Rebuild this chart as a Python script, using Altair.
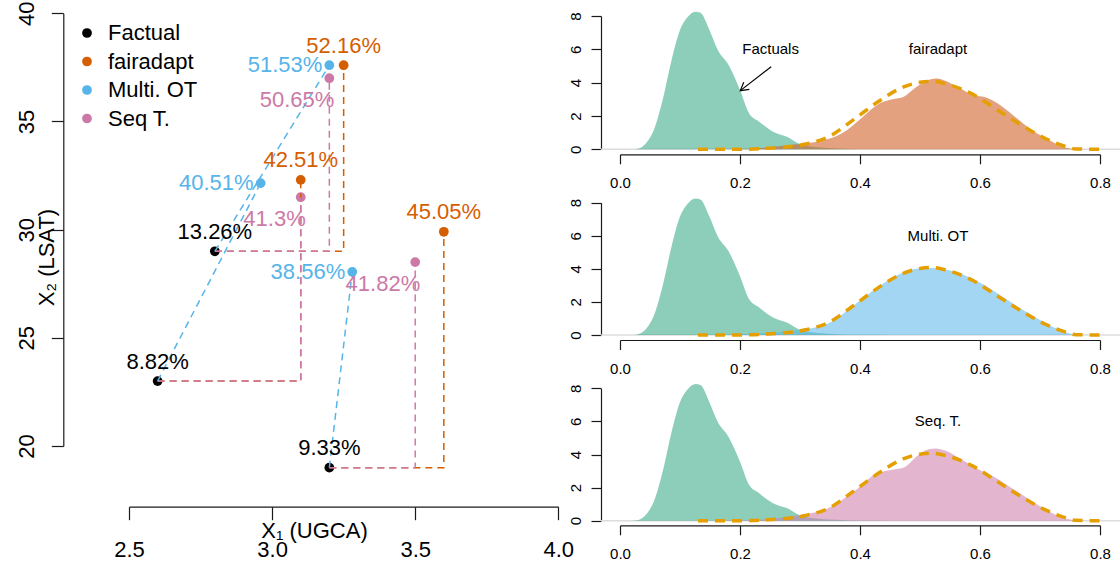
import math
import altair as alt
import pandas as pd

FONT = "Liberation Sans"
W, H = 1120, 562

# ---------------- left panel values ----------------
groups = ["Factual", "fairadapt", "Multi. OT", "Seq T."]
group_colors = ["#000000", "#D55E00", "#56B4E9", "#CC79A7"]

fact_x1 = [2.6, 2.8, 3.2]
fact_x2 = [23.0, 29.0, 19.0]
fact_pct = ["8.82%", "13.26%", "9.33%"]

fair_x1 = [3.1, 3.25, 3.6]
fair_x2 = [32.3, 37.6, 29.9]
fair_pct = ["42.51%", "52.16%", "45.05%"]

ot_x1 = [2.96, 3.2, 3.28]
ot_x2 = [32.15, 37.6, 28.05]
ot_pct = ["40.51%", "51.53%", "38.56%"]

seq_x1 = [3.1, 3.2, 3.5]
seq_x2 = [31.5, 37.0, 28.5]
seq_pct = ["41.3%", "50.65%", "41.82%"]

x1_ticks = [2.5, 3.0, 3.5, 4.0]
x2_ticks = [20, 25, 30, 35, 40]

# ---------------- density panel values ----------------
dens_ticks_x = [0.0, 0.2, 0.4, 0.6, 0.8]
dens_ticks_y = [0, 2, 4, 6, 8]

factual_x = [0.02, 0.028, 0.054, 0.071, 0.086, 0.100, 0.111, 0.126, 0.134, 0.149, 0.163,
             0.181, 0.200, 0.215, 0.232, 0.255, 0.278, 0.301, 0.33, 0.36, 0.40, 0.45]
factual_y = [0.0, 0.02, 0.96, 2.96, 5.36, 7.16, 7.86, 8.26, 8.2, 7.16, 5.96,
             5.06, 3.56, 2.17, 1.66, 1.06, 0.76, 0.30, 0.12, 0.05, 0.01, 0.0]

fair_dx = [0.15, 0.20, 0.25, 0.28, 0.30, 0.335, 0.37, 0.405, 0.433, 0.456, 0.473, 0.491,
           0.508, 0.528, 0.543, 0.566, 0.589, 0.609, 0.629, 0.658, 0.686, 0.715, 0.738, 0.761, 0.78]
fair_dy = [0.0, 0.02, 0.12, 0.25, 0.32, 0.5, 0.96, 1.96, 2.76, 3.02, 3.16, 3.66,
           4.06, 4.25, 4.1, 3.66, 3.26, 3.12, 2.76, 1.96, 1.16, 0.56, 0.16, 0.02, 0.0]

ot_dx = [0.15, 0.20, 0.25, 0.30, 0.35, 0.39, 0.43, 0.47, 0.50, 0.52, 0.55, 0.59, 0.63,
         0.67, 0.71, 0.74, 0.76, 0.78]
ot_dy = [0.0, 0.04, 0.12, 0.3, 0.75, 1.8, 2.9, 3.75, 4.03, 4.05, 3.9, 3.35, 2.5,
         1.55, 0.7, 0.2, 0.03, 0.0]

seq_dx = [0.15, 0.20, 0.25, 0.28, 0.301, 0.347, 0.393, 0.428, 0.456, 0.473, 0.494, 0.508,
          0.525, 0.543, 0.566, 0.594, 0.623, 0.658, 0.692, 0.727, 0.755, 0.78]
seq_dy = [0.0, 0.02, 0.1, 0.22, 0.34, 0.75, 1.85, 2.86, 3.1, 3.22, 3.87, 4.23,
          4.37, 4.23, 3.77, 3.17, 2.66, 1.85, 1.05, 0.34, 0.04, 0.0]

target_x = [0.13, 0.20, 0.24, 0.28, 0.31, 0.347, 0.39, 0.43, 0.47, 0.50, 0.52, 0.548,
            0.589, 0.629, 0.669, 0.709, 0.744, 0.76, 0.80]
target_y = [0.0, 0.0, 0.05, 0.15, 0.32, 0.74, 1.8, 2.85, 3.7, 4.02, 4.08, 3.88,
            3.28, 2.36, 1.45, 0.65, 0.16, 0.02, 0.0]

panel_labels = ["fairadapt", "Multi. OT", "Seq. T."]
panel_label_pos = [0.53, 6.0]
factuals_label_pos = [0.251, 6.0]
arrow_from = [0.252, 4.96]
arrow_to = [0.2005, 3.52]
baseline_x = [-0.032, 0.84]

# ---------------- layout (pixel placement of each panel) ----------------
LEFT_X_RANGE = [129, 558.3]
LEFT_Y_RANGE = [446, 13.3]
LEFT_XAXIS_Y = 506.7
LEFT_YAXIS_X = 63.3
DENS_X_RANGE = [620, 1100]
DENS_Y_RANGES = [[149.3, 16], [335, 202.7], [520.7, 388.3]]
DENS_XAXIS_Y = [154.3, 340, 525.3]
DENS_YAXIS_X = 601

AX = dict(domainColor="#1a1a1a", tickColor="#1a1a1a", labelColor="#000000",
          domainWidth=1.2, tickWidth=1.2, grid=False, labelFlush=False,
          labelOverlap=False, labelFont=FONT)

# ================= left panel =================
lx = alt.X("x:Q",
           scale=alt.Scale(domain=[2.5, 4.0], range=LEFT_X_RANGE, nice=False, zero=False),
           axis=alt.Axis(orient="bottom", offset=LEFT_XAXIS_Y - H, values=x1_ticks,
                         format=".1f", tickSize=13, labelPadding=20, labelFontSize=22,
                         title="X\u2081 (UGCA)", titleFontSize=22, titleFontWeight="normal",
                         titleFont=FONT, titleX=314, titleY=31, titleAlign="center",
                         titleBaseline="alphabetic", **AX))
ly = alt.Y("y:Q",
           scale=alt.Scale(domain=[20, 40], range=LEFT_Y_RANGE, nice=False, zero=False),
           axis=alt.Axis(orient="left", offset=-LEFT_YAXIS_X, values=x2_ticks,
                         tickSize=12, labelAngle=270, labelAlign="center",
                         labelBaseline="alphabetic", labelPadding=18, labelFontSize=22,
                         title="X\u2082 (LSAT)", titleFontSize=22, titleFontWeight="normal",
                         titleFont=FONT, titleAngle=270, titleX=-10, titleY=257,
                         titleAlign="center", titleBaseline="alphabetic", **AX))

pts = pd.DataFrame({
    "x": fact_x1 + fair_x1 + ot_x1 + seq_x1,
    "y": fact_x2 + fair_x2 + ot_x2 + seq_x2,
    "group": [g for g in groups for _ in range(3)],
})


def step_paths(tx, ty):
    rows = []
    for i in range(3):
        rows += [
            {"x": fact_x1[i], "y": fact_x2[i], "o": 0, "pid": i},
            {"x": tx[i], "y": fact_x2[i], "o": 1, "pid": i},
            {"x": tx[i], "y": ty[i], "o": 2, "pid": i},
        ]
    return pd.DataFrame(rows)


ot_paths = pd.DataFrame(
    [{"x": fact_x1[i], "y": fact_x2[i], "o": 0, "pid": i} for i in range(3)]
    + [{"x": ot_x1[i], "y": ot_x2[i], "o": 1, "pid": i} for i in range(3)]
)

points = alt.Chart(pts).mark_circle(size=95, opacity=1).encode(
    color=alt.Color("group:N",
                    scale=alt.Scale(domain=groups, range=group_colors),
                    legend=alt.Legend(orient="none", legendX=76, legendY=22, title=None,
                                      labelFontSize=22, labelFont=FONT, labelColor="black",
                                      symbolType="circle", symbolSize=95,
                                      symbolStrokeWidth=0, symbolOpacity=1,
                                      rowPadding=6.5, labelOffset=10, padding=0,
                                      labelLimit=400))
)


def path_layer(df, color):
    return alt.Chart(df).mark_line(color=color, strokeWidth=1.5, strokeDash=[7, 5]).encode(
        detail="pid:N", order="o:Q")


fair_lines = path_layer(step_paths(fair_x1, fair_x2), "#D55E00")
seq_lines = path_layer(step_paths(seq_x1, seq_x2), "#CC79A7")
ot_lines = path_layer(ot_paths, "#56B4E9")


def text_layer(xs, ys, labels, color, **kw):
    df = pd.DataFrame({"x": xs, "y": ys, "t": labels})
    return alt.Chart(df).mark_text(fontSize=22, font=FONT, color=color, **kw).encode(
        text="t:N")


t_fact = text_layer(fact_x1, fact_x2, fact_pct, "#000000", align="center",
                    baseline="alphabetic", dy=-12.5)
t_fair = text_layer(fair_x1, fair_x2, fair_pct, "#D55E00", align="center",
                    baseline="alphabetic", dy=-12.5)
t_ot = text_layer(ot_x1, ot_x2, ot_pct, "#56B4E9", align="right",
                  baseline="middle", dx=-7)
t_seq = text_layer(seq_x1, seq_x2, seq_pct, "#CC79A7", align="right",
                   baseline="middle", dx=5, dy=22)

left = alt.layer(points, fair_lines, seq_lines, ot_lines,
                 t_fact, t_fair, t_ot, t_seq).encode(x=lx, y=ly)

# ================= density panels =================
fact_df = pd.DataFrame({"x": factual_x, "y": factual_y})
target_df = pd.DataFrame({"x": target_x, "y": target_y})
method_dfs = [pd.DataFrame({"x": fair_dx, "y": fair_dy}),
              pd.DataFrame({"x": ot_dx, "y": ot_dy}),
              pd.DataFrame({"x": seq_dx, "y": seq_dy})]
method_fills = ["#D0622A", "#56B4E9", "#CC79A7"]
method_opacity = [0.6, 0.55, 0.55]


def panel(k):
    yr = DENS_Y_RANGES[k]
    px_per_x = (DENS_X_RANGE[1] - DENS_X_RANGE[0]) / 0.8
    px_per_y = (yr[0] - yr[1]) / 8
    X = alt.X("x:Q",
              scale=alt.Scale(domain=[0, 0.8], range=DENS_X_RANGE, nice=False, zero=False),
              axis=alt.Axis(orient="bottom", offset=DENS_XAXIS_Y[k] - H,
                            values=dens_ticks_x, format=".1f", tickSize=9.5,
                            labelPadding=12, labelFontSize=15, title=None, **AX))
    Y = alt.Y("y:Q",
              scale=alt.Scale(domain=[0, 8], range=yr, nice=False, zero=False),
              axis=alt.Axis(orient="left", offset=-DENS_YAXIS_X, values=dens_ticks_y,
                            tickSize=10, labelAngle=270, labelAlign="center",
                            labelBaseline="alphabetic", labelPadding=11,
                            labelFontSize=15, title=None, **AX))
    base = alt.Chart(pd.DataFrame({"x": [baseline_x[0]], "x2": [baseline_x[1]], "y": [0]})
                     ).mark_rule(color="#DCDCDC", strokeWidth=1.5).encode(x2="x2:Q")
    teal = alt.Chart(fact_df).mark_area(color="#1B9E77", opacity=0.5,
                                        interpolate="monotone")
    meth = alt.Chart(method_dfs[k]).mark_area(color=method_fills[k],
                                              opacity=method_opacity[k],
                                              interpolate="monotone")
    dash = alt.Chart(target_df).mark_line(color="#E69F00", strokeWidth=3.5,
                                          strokeDash=[10, 7], interpolate="monotone")
    lab = alt.Chart(pd.DataFrame({"x": [panel_label_pos[0]], "y": [panel_label_pos[1]],
                                  "t": [panel_labels[k]]})).mark_text(
        fontSize=15, font=FONT, color="black", align="center", baseline="middle"
    ).encode(text="t:N")
    layers = [base, teal, meth, dash, lab]
    if k == 0:
        flab = alt.Chart(pd.DataFrame({"x": [factuals_label_pos[0]],
                                       "y": [factuals_label_pos[1]],
                                       "t": ["Factuals"]})).mark_text(
            fontSize=15, font=FONT, color="black", align="center", baseline="middle"
        ).encode(text="t:N")
        shaft = alt.Chart(pd.DataFrame({"x": [arrow_from[0]], "y": [arrow_from[1]],
                                        "x2": [arrow_to[0]], "y2": [arrow_to[1]]})
                          ).mark_rule(color="black", strokeWidth=1.2).encode(
            x2="x2:Q", y2="y2:Q")
        dxp = (arrow_to[0] - arrow_from[0]) * px_per_x
        dyp = -(arrow_to[1] - arrow_from[1]) * px_per_y
        ang = math.degrees(math.atan2(dyp, dxp)) % 360
        head = alt.Chart(pd.DataFrame({"x": [arrow_to[0]], "y": [arrow_to[1]]})).mark_point(
            shape="M -1 -0.577 L 0 0 L -1 0.577", size=250, filled=False,
            stroke="black", strokeWidth=1.2, angle=ang, opacity=1)
        layers += [flab, shaft, head]
    return alt.layer(*layers).encode(x=X, y=Y)


chart = alt.layer(left, panel(0), panel(1), panel(2)).resolve_scale(
    x="independent", y="independent"
).properties(
    width=W, height=H, autosize=alt.AutoSizeParams(type="none"), padding=0,
    background="white"
).configure(font=FONT).configure_view(stroke=None)

chart.save("out.html", embed_options={"renderer": "svg", "actions": False})
